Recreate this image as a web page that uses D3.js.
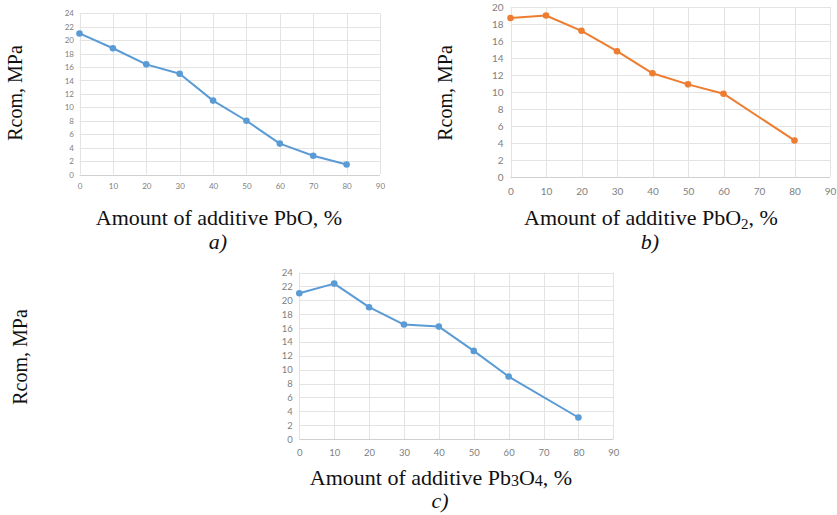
<!DOCTYPE html>
<html>
<head>
<meta charset="utf-8">
<script src="https://cdn.jsdelivr.net/npm/d3@7"></script>
<style>
  body { margin: 0; background: #fff; }
  svg { display: block; }
  .tick text { fill: #808080; font-family: Lato, "Liberation Sans", sans-serif; }
</style>
</head>
<body>
<div id="chart"></div>
<script>
// values
var pctA = [0, 10, 20, 30, 40, 50, 60, 70, 80];
var rcomA = [21, 18.8, 16.4, 15, 11, 8, 4.6, 2.8, 1.5];

var pctB = [0, 10, 20, 30, 40, 50, 60, 80];
var rcomB = [18.7, 19, 17.2, 14.8, 12.2, 10.9, 9.8, 4.3];

var pctC = [0, 10, 20, 30, 40, 50, 60, 80];
var rcomC = [21, 22.4, 19, 16.5, 16.2, 12.7, 9, 3.1];

var xTicks = d3.range(0, 91, 10);
var yTicksA = d3.range(0, 25, 2);
var yTicksB = d3.range(0, 21, 2);
var yTicksC = d3.range(0, 25, 2);

var yTitle = "Rcom, MPa";
var blue = "#5b9bd5", orange = "#ed7d31";
var serif = "'Liberation Serif', 'Times New Roman', Times, 'DejaVu Serif', serif";

var w = 837, h = 515;
var svg = d3.select("#chart").append("svg").attr("width", w).attr("height", h);

// panel boxes: plot area in page pixels
var panels = [
  {x: pctA, y: rcomA, yt: yTicksA, ymax: 24, color: blue,
   left: 79.5, right: 380, top: 13.3, bottom: 174.5, fs: 8,
   ytx: 22, yty: 93, xtx: 219, xty: 225, cap: "a)", capy: 249,
   title: [["Amount of additive PbO, %", 0]]},
  {x: pctB, y: rcomB, yt: yTicksB, ymax: 20, color: orange,
   left: 510.5, right: 830, top: 7, bottom: 177, fs: 10,
   ytx: 452, yty: 93, xtx: 651, xty: 225, cap: "b)", capy: 249,
   title: [["Amount of additive PbO", 0], ["2", 4], [", %", 0]]},
  {x: pctC, y: rcomC, yt: yTicksC, ymax: 24, color: blue,
   left: 299.3, right: 613.3, top: 272.5, bottom: 439, fs: 9.5,
   ytx: 27, yty: 357, xtx: 441, xty: 485, cap: "c)", capy: 508,
   title: [["Amount of additive Pb", 0], ["3", 1], ["O", 0], ["4", 1], [", %", 0]]}
];

panels.forEach(function(p) {
  var xs = d3.scaleLinear().domain([0, 90]).range([p.left, p.right]);
  var ys = d3.scaleLinear().domain([0, p.ymax]).range([p.bottom, p.top]);
  var g = svg.append("g");

  // grid
  g.selectAll(".gx").data(xTicks).enter().append("line")
    .attr("x1", function(d) { return Math.round(xs(d)) + 0.5; })
    .attr("x2", function(d) { return Math.round(xs(d)) + 0.5; })
    .attr("y1", p.top).attr("y2", p.bottom)
    .style("stroke", "#e3e3e3");
  g.selectAll(".gy").data(p.yt).enter().append("line")
    .attr("y1", function(d) { return Math.round(ys(d)) + 0.5; })
    .attr("y2", function(d) { return Math.round(ys(d)) + 0.5; })
    .attr("x1", p.left).attr("x2", p.right)
    .style("stroke", function(d) { return d == 0 ? "#d0d0d0" : "#e3e3e3"; });

  // axes, only labels
  var ax = g.append("g").attr("transform", "translate(0," + p.bottom + ")")
    .call(d3.axisBottom(xs).tickValues(xTicks).tickSize(0).tickPadding(p.fs + 1));
  var ay = g.append("g").attr("transform", "translate(" + p.left + ",0)")
    .call(d3.axisLeft(ys).tickValues(p.yt).tickSize(0).tickPadding(p.fs * 0.7));
  [ax, ay].forEach(function(a) {
    a.select(".domain").remove();
    a.selectAll("text").style("font-size", p.fs + "px");
  });

  // series
  var pts = p.x.map(function(v, i) { return [v, p.y[i]]; });
  var line = d3.line()
    .x(function(d) { return xs(d[0]); })
    .y(function(d) { return ys(d[1]); });
  g.append("path").datum(pts).attr("d", line)
    .style("fill", "none").style("stroke", p.color).style("stroke-width", 2)
    .style("stroke-linejoin", "round");
  g.selectAll(".pt").data(pts).enter().append("circle")
    .attr("cx", function(d) { return xs(d[0]); })
    .attr("cy", function(d) { return ys(d[1]); })
    .attr("r", 3.3).style("fill", p.color);

  // titles
  g.append("text")
    .attr("transform", "translate(" + p.ytx + "," + p.yty + ") rotate(-90)")
    .attr("text-anchor", "middle").style("font-family", serif)
    .style("font-size", "20px").style("fill", "#111").text(yTitle);

  var xt = g.append("text")
    .attr("x", p.xtx).attr("y", p.xty).style("font-family", serif)
    .attr("text-anchor", "middle").style("font-size", "22px").style("fill", "#111");
  var prev = 0;
  p.title.forEach(function(t) {
    var sp = xt.append("tspan").text(t[0]).attr("dy", t[1] - prev);
    if (t[1] > 0) sp.style("font-size", t[1] > 2 ? "15px" : "16px");
    prev = t[1];
  });

  g.append("text")
    .attr("x", p.xtx - 1).attr("y", p.capy).style("font-family", serif)
    .attr("text-anchor", "middle").style("font-size", "22px").style("fill", "#111")
    .style("font-style", "italic").text(p.cap);
});
</script>
</body>
</html>
